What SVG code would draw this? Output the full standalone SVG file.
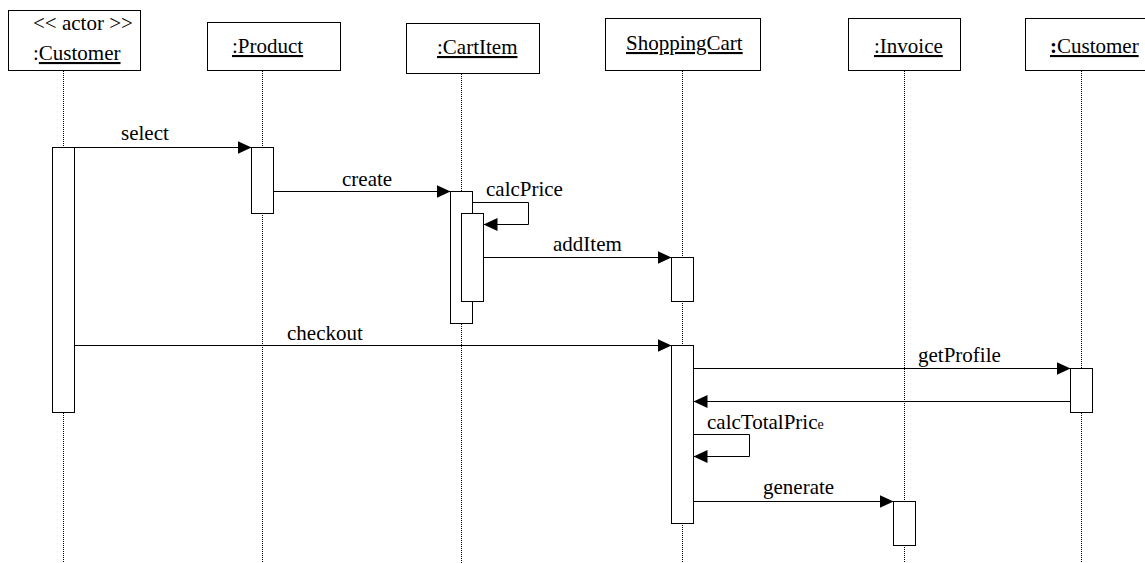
<svg xmlns="http://www.w3.org/2000/svg" width="1145" height="563" viewBox="0 0 1145 563" font-family="Liberation Serif, serif" font-size="21">
<style>
  .box { fill: #fff; stroke: #000; stroke-width: 1; }
  .act { fill: #fff; stroke: #000; stroke-width: 1; }
  .life { stroke: #000; stroke-width: 1; stroke-dasharray: 1 1; fill: none; }
  .msg { stroke: #000; stroke-width: 1; fill: none; marker-end: url(#arrow); }
  .u { text-decoration: underline; }
  text { font-family: 'Liberation Serif', serif; font-size: 21px; fill: #000; }
  tspan.s { font-size: 14px; }
</style>
<defs>
  <marker id="arrow" markerUnits="userSpaceOnUse" markerWidth="15" markerHeight="14" refX="14" refY="7" orient="auto">
    <path d="M0,0.5 L14,7 L0,13.5 Z" fill="#000"/>
  </marker>
</defs>
<rect width="1145" height="563" fill="#fff"/>

<g id="customer-actor">
  <rect class="box" x="8.5" y="10.5" width="132" height="60"/>
  <text x="33" y="30">&lt;&lt; actor &gt;&gt;</text>
  <text x="33" y="60">:<tspan class="u">Customer</tspan></text>
  <line class="life" x1="63.5" y1="71" x2="63.5" y2="563"/>
  <rect class="act" x="52.5" y="147.5" width="22" height="265"/>
</g>

<g id="product">
  <rect class="box" x="207.5" y="22.5" width="133" height="48"/>
  <text class="u" x="232" y="53">:Product</text>
  <line class="life" x1="262.5" y1="71" x2="262.5" y2="563"/>
  <rect class="act" x="251.5" y="147.5" width="22" height="66"/>
</g>

<g id="cartitem">
  <rect class="box" x="406.5" y="23.5" width="133" height="50"/>
  <text class="u" x="437" y="54">:CartItem</text>
  <line class="life" x1="461.5" y1="74" x2="461.5" y2="563"/>
  <rect class="act" x="450.5" y="191.5" width="22" height="132"/>
  <rect class="act" x="461.5" y="213.5" width="22" height="88"/>
</g>

<g id="shoppingcart">
  <rect class="box" x="605.5" y="18.5" width="155" height="52"/>
  <text class="u" x="626" y="50">ShoppingCart</text>
  <line class="life" x1="682.5" y1="71" x2="682.5" y2="563"/>
  <rect class="act" x="671.5" y="257.5" width="22" height="44"/>
  <rect class="act" x="671.5" y="345.5" width="22" height="178"/>
</g>

<g id="invoice">
  <rect class="box" x="848.5" y="18.5" width="112" height="52"/>
  <text class="u" x="874" y="53">:Invoice</text>
  <line class="life" x1="904.5" y1="71" x2="904.5" y2="563"/>
  <rect class="act" x="893.5" y="501.5" width="22" height="44"/>
</g>

<g id="customer">
  <rect class="box" x="1025.5" y="18.5" width="126" height="52"/>
  <text class="u" x="1050" y="53"><tspan font-weight="bold">:</tspan>Customer</text>
  <line class="life" x1="1081.5" y1="71" x2="1081.5" y2="563"/>
  <rect class="act" x="1070.5" y="368.5" width="22" height="44"/>
</g>

<g id="connectors">
  <path class="msg" d="M74.5,147.5 H251.5"/>
  <text x="121" y="140">select</text>
  <path class="msg" d="M273.5,191.5 H450.5"/>
  <text x="342" y="185.5">create</text>
  <path class="msg" d="M472.5,202.5 H528.5 V224.5 H483.5"/>
  <text x="486" y="196">calcPrice</text>
  <path class="msg" d="M483.5,257.5 H671.5"/>
  <text x="553" y="251">addItem</text>
  <path class="msg" d="M74.5,345.5 H671.5"/>
  <text x="287" y="340">checkout</text>
  <path class="msg" d="M693.5,368.5 H1070.5"/>
  <text x="918" y="362">getProfile</text>
  <path class="msg" d="M1070.5,401.5 H693.5"/>
  <path class="msg" d="M693.5,434.5 H749.5 V456.5 H693.5"/>
  <text x="707" y="429">calcTotalPric<tspan class="s">e</tspan></text>
  <path class="msg" d="M693.5,501.5 H893.5"/>
  <text x="763" y="494">generate</text>
</g>
</svg>
